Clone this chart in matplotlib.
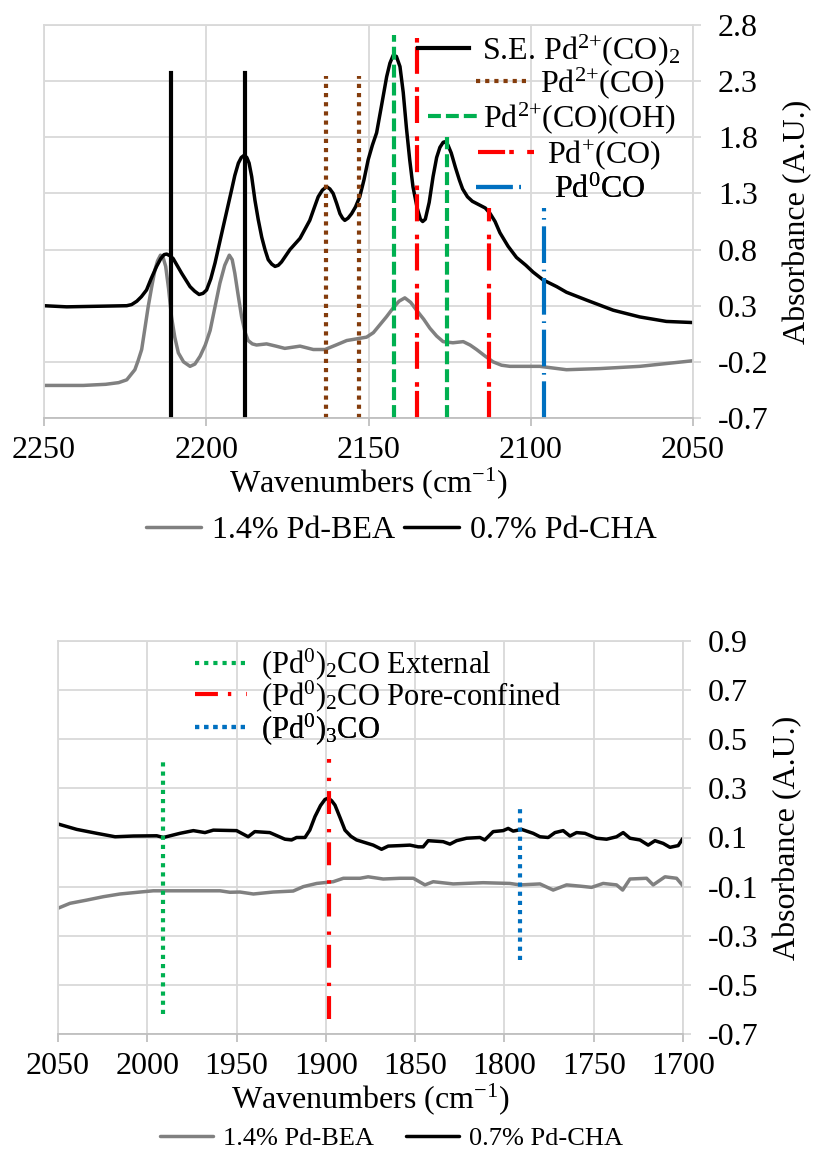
import numpy as np
import matplotlib
matplotlib.use('Agg')
import matplotlib.pyplot as plt
from matplotlib.lines import Line2D

plt.rcParams['font.family'] = ['Liberation Serif', 'DejaVu Serif']
plt.rcParams['mathtext.fontset'] = 'custom'
plt.rcParams['mathtext.rm'] = 'Liberation Serif'
plt.rcParams['mathtext.it'] = 'Liberation Serif:italic'
plt.rcParams['mathtext.default'] = 'regular'
plt.rcParams['axes.unicode_minus'] = False

# --- top panel: CO region 2250-2050 cm-1 ---
top_wn_cha = [2250, 2243, 2224.5, 2223, 2221.4, 2220, 2218.4, 2217, 2215.3, 2214,
              2213, 2212.2, 2211.2, 2210.2, 2209, 2207.6, 2206.3, 2205, 2203.6, 2202.2,
              2201, 2199.9, 2198.6, 2197.3, 2194.8, 2192.2, 2191.2, 2190.1, 2189.2, 2188.3,
              2187.5, 2186.8, 2186, 2185, 2184, 2182.9, 2181.9, 2180.9, 2179.8, 2178.8,
              2177.8, 2176.8, 2174.2, 2171.1, 2168.1, 2166.5, 2165.5, 2164.2, 2162.9, 2161.9,
              2160.9, 2159.8, 2158.8, 2158, 2157.3, 2156.3, 2155.2, 2154, 2152.7, 2151.4,
              2150.1, 2148.8, 2147.5, 2146, 2144.4, 2143.4, 2142.4, 2141.4, 2140.3, 2139.3,
              2138.3, 2137.3, 2136.3, 2135, 2134, 2133.3, 2132.5, 2131.3, 2130.1, 2129,
              2128, 2127, 2126.5, 2125.5, 2124.5, 2123.2, 2122, 2121, 2119.5, 2118,
              2116, 2114, 2112.5, 2111, 2109.5, 2107, 2104.4, 2101.5, 2099.3, 2096.2,
              2092, 2089, 2082.8, 2074.6, 2066.4, 2058.2, 2050]
top_abs_cha = [0.30, 0.29, 0.30, 0.31, 0.34, 0.38, 0.44, 0.54, 0.65, 0.72,
               0.755, 0.76, 0.745, 0.72, 0.66, 0.59, 0.53, 0.47, 0.43, 0.40,
               0.41, 0.44, 0.54, 0.68, 1.00, 1.33, 1.46, 1.57, 1.62, 1.64,
               1.62, 1.57, 1.45, 1.24, 1.07, 0.91, 0.80, 0.71, 0.67, 0.65,
               0.66, 0.69, 0.80, 0.90, 1.06, 1.19, 1.27, 1.33, 1.36, 1.34,
               1.30, 1.21, 1.12, 1.08, 1.06, 1.08, 1.12, 1.18, 1.27, 1.42,
               1.60, 1.73, 1.84, 2.08, 2.34, 2.46, 2.53, 2.52, 2.43, 2.20,
               1.88, 1.60, 1.36, 1.17, 1.07, 1.05, 1.07, 1.22, 1.45, 1.62,
               1.71, 1.755, 1.76, 1.73, 1.66, 1.53, 1.42, 1.34, 1.27, 1.23,
               1.20, 1.17, 1.12, 1.05, 0.95, 0.83, 0.73, 0.66, 0.60, 0.53,
               0.47, 0.42, 0.35, 0.26, 0.20, 0.16, 0.15]

top_wn_bea = [2250, 2237.9, 2231, 2227, 2224.5, 2222, 2221, 2219.9, 2219, 2217.9,
              2216.8, 2215.8, 2215, 2214.1, 2213.3, 2212.5, 2211.6, 2210.7, 2209.7, 2208.6,
              2207, 2205, 2203.5, 2201.9, 2200.3, 2198.8, 2197.3, 2195.8, 2194.3, 2192.9,
              2192, 2191.2, 2190.2, 2189.1, 2188, 2187.1, 2185.8, 2184.5, 2181.4, 2178.5,
              2175.8, 2171.1, 2167, 2163.4, 2160, 2156.7, 2150.6, 2148.5, 2146.5, 2144.5,
              2142.4, 2140.6, 2138.8, 2137, 2135.2, 2133, 2131.1, 2129, 2127, 2124,
              2120.8, 2118.7, 2116.7, 2114, 2111.6, 2109, 2106.4, 2097.2, 2089, 2078.7,
              2066.4, 2050]
top_abs_bea = [-0.41, -0.41, -0.40, -0.385, -0.36, -0.27, -0.19, -0.09, 0.08, 0.29,
               0.47, 0.62, 0.70, 0.75, 0.73, 0.65, 0.45, 0.20, 0.02, -0.12,
               -0.20, -0.24, -0.22, -0.15, -0.05, 0.08, 0.29, 0.50, 0.66, 0.75,
               0.71, 0.59, 0.40, 0.20, 0.06, -0.01, -0.04, -0.05, -0.04, -0.06,
               -0.08, -0.06, -0.09, -0.09, -0.05, -0.01, 0.02, 0.06, 0.13, 0.20,
               0.28, 0.34, 0.37, 0.33, 0.26, 0.18, 0.10, 0.03, -0.02, -0.03,
               -0.02, -0.05, -0.09, -0.15, -0.20, -0.23, -0.24, -0.24, -0.27, -0.26,
               -0.24, -0.19]

# reference band positions (wavenumber, top of marker line)
se_pos, se_top = [2211, 2188], [2.37, 2.37]
pd2co_pos, pd2co_top = [2163, 2153], [2.35, 2.35]
pd2oh_pos, pd2oh_top = [2142, 2125.7], [2.71, 1.80]
pd1co_pos, pd1co_top = [2135, 2113], [2.68, 1.17]
pd0co_pos, pd0co_top = [2096], [1.17]

top_xticks = [2250, 2200, 2150, 2100, 2050]
top_yticks = [-0.7, -0.2, 0.3, 0.8, 1.3, 1.8, 2.3, 2.8]

# --- bottom panel: bridged CO region 2050-1700 cm-1 ---
bot_wn_cha = [2050, 2039.5, 2028.3, 2018, 2007.8, 1994.7, 1991, 1981.7, 1974.2, 1967.7,
              1963, 1950, 1943.5, 1939.8, 1931.4, 1922.9, 1919.2, 1916.4, 1911.7, 1909,
              1906.1, 1903, 1900.5, 1898.6, 1896.8, 1894.9, 1892, 1889.3, 1886, 1882.8,
              1873.5, 1868.8, 1865.1, 1858.5, 1852.9, 1848.3,
              1845.5, 1842.7, 1834.3, 1830.5, 1826.8, 1821.2, 1813.7, 1811, 1806.3, 1800.7,
              1797.9, 1795.1, 1790.4, 1783.9, 1780.1, 1775.5, 1771.7, 1767.1, 1763.3, 1759.6,
              1754.9, 1748.4, 1742.8, 1737.2, 1733.5, 1729.7, 1724.1, 1719.5, 1715.7, 1711.1,
              1707.3, 1702.7, 1700]
bot_abs_cha = [0.155, 0.133, 0.117, 0.103, 0.106, 0.107, 0.100, 0.117, 0.128, 0.120,
               0.130, 0.128, 0.103, 0.124, 0.120, 0.093, 0.090, 0.100, 0.100, 0.130,
               0.185, 0.230, 0.255, 0.260, 0.250, 0.232, 0.180, 0.130, 0.105, 0.090,
               0.069, 0.052, 0.065, 0.067, 0.069, 0.062,
               0.062, 0.087, 0.083, 0.073, 0.087, 0.097, 0.100, 0.090, 0.124, 0.128,
               0.137, 0.126, 0.133, 0.117, 0.103, 0.100, 0.120, 0.128, 0.106, 0.120,
               0.117, 0.097, 0.093, 0.103, 0.120, 0.097, 0.090, 0.069, 0.087, 0.076,
               0.060, 0.067, 0.097]

bot_wn_bea = [2050, 2043.3, 2034, 2024.6, 2015.3, 2004, 1996.6, 1981.7, 1970.5, 1959.3,
              1953.7, 1948.1, 1940.6, 1929.5, 1918.3, 1912.6, 1905.1, 1895.9, 1890.2, 1880.9,
              1876.3, 1867.9, 1858.5, 1851, 1844.5, 1839.9, 1828.7, 1811.9, 1797, 1791.3,
              1780.1, 1772.7, 1765.2, 1757.7, 1751.2, 1744.7, 1737.2, 1733.8, 1729.7, 1720.4,
              1716.7, 1710.1, 1703.6, 1700]
bot_abs_bea = [-0.188, -0.168, -0.155, -0.141, -0.130, -0.122, -0.117, -0.117, -0.117, -0.117,
               -0.123, -0.122, -0.130, -0.122, -0.118, -0.100, -0.087, -0.080, -0.066, -0.066,
               -0.060, -0.069, -0.066, -0.066, -0.093, -0.080, -0.089, -0.084, -0.087, -0.093,
               -0.089, -0.114, -0.093, -0.098, -0.103, -0.087, -0.093, -0.114, -0.069, -0.066,
               -0.093, -0.060, -0.066, -0.097]

ext_pos, ext_span = [1991], [-0.62, 0.42]
pore_pos, pore_span = [1898], [-0.64, 0.42]
tri_pos, tri_span = [1791], [-0.40, 0.22]

bot_xticks = [2050, 2000, 1950, 1900, 1850, 1800, 1750, 1700]
bot_yticks = [-0.7, -0.5, -0.3, -0.1, 0.1, 0.3, 0.5, 0.7, 0.9]

# --- styles ---
GREY = '#808080'
GRID = '#d9d9d9'
FS = 23
VLW = 3.0
SLW = 2.5
sty_se = dict(color='black', lw=VLW, ls='-')
sty_pd2co = dict(color='#843c0c', lw=VLW, ls=(0, (1, 1.2)))
sty_pd2oh = dict(color='#00b050', lw=VLW, ls=(0, (3.1, 1.2)))
sty_pd1co = dict(color='#ff0000', lw=VLW, ls=(0, (6.5, 1.0, 1.1, 3.2)))
sty_pd0co = dict(color='#0070c0', lw=VLW, ls=(0, (8.8, 1.6, 0.4, 1.6)))
sty_ext = dict(color='#00b050', lw=VLW, ls=(0, (1, 1.2)))
sty_pore = dict(color='#ff0000', lw=VLW, ls=(0, (5.5, 2.4, 0.8, 3.6)))
sty_tri = dict(color='#0070c0', lw=VLW, ls=(0, (1, 1.2)))


def style_axes(ax, xlim, ylim, xticks, yticks):
    ax.set_xlim(*xlim)
    ax.set_ylim(*ylim)
    ax.set_xticks(xticks)
    ax.set_yticks(yticks)
    ax.set_yticklabels([f'{v:.1f}' for v in yticks])
    ax.yaxis.tick_right()
    ax.yaxis.set_label_position('right')
    ax.grid(True, color=GRID, lw=1.3)
    ax.set_axisbelow(True)
    for s in ax.spines.values():
        s.set_color(GRID)
        s.set_linewidth(1.3)
    ax.spines['bottom'].set_color('#bfbfbf')
    ax.tick_params(axis='x', direction='out', length=6, width=1.3, color='#bfbfbf',
                   labelsize=FS, pad=7)
    ax.tick_params(axis='y', direction='out', length=6, width=1.3, color=GRID,
                   labelsize=FS, pad=12)
    ax.set_xlabel('Wavenumbers (cm$^{\u2212 1}$)', fontsize=FS, labelpad=0)
    ax.set_ylabel('Absorbance (A.U.)', fontsize=FS, labelpad=10)


def marker_lines(ax, pos, lo, hi, sty):
    for x, l, h in zip(pos, lo, hi):
        ax.plot([x, x], [l, h], **sty)


def tag(ax, x, y, sty, label, pad=0.4, hl=1.6, fs=FS):
    h = Line2D([], [], **sty)
    leg = ax.legend([h], [label], loc='center left', bbox_to_anchor=(x, y),
                    frameon=False, borderpad=0, borderaxespad=0, handlelength=hl,
                    handletextpad=pad, fontsize=fs)
    ax.add_artist(leg)


fig = plt.figure(figsize=(8.16, 11.54), dpi=100)
ax1 = fig.add_axes([44 / 816, 1 - 418 / 1154, 649 / 816, 393 / 1154])
ax2 = fig.add_axes([58 / 816, 1 - 1034 / 1154, 625 / 816, 393 / 1154])

spec = dict(lw=SLW, solid_joinstyle='round', solid_capstyle='round')

# top panel
style_axes(ax1, (2250, 2050), (-0.7, 2.8), top_xticks, top_yticks)
b1, = ax1.plot(top_wn_bea, top_abs_bea, color=GREY, **spec)
c1, = ax1.plot(top_wn_cha, top_abs_cha, color='black', **spec)
marker_lines(ax1, se_pos, [-0.7] * 2, se_top, sty_se)
marker_lines(ax1, pd2co_pos, [-0.7] * 2, pd2co_top, sty_pd2co)
marker_lines(ax1, pd2oh_pos, [-0.7] * 2, pd2oh_top, sty_pd2oh)
marker_lines(ax1, pd1co_pos, [-0.7] * 2, pd1co_top, sty_pd1co)
marker_lines(ax1, pd0co_pos, [-0.7], pd0co_top, sty_pd0co)

tag(ax1, 0.576, 0.935, sty_se, 'S.E. Pd$^{2{+}}$(CO)$_2$')
tag(ax1, 0.666, 0.852, sty_pd2co, 'Pd$^{2{+}}$(CO)')
tag(ax1, 0.592, 0.763, sty_pd2oh, 'Pd$^{2{+}}$(CO)(OH)', pad=0.1)
tag(ax1, 0.669, 0.669, sty_pd1co, 'Pd$^{+}$(CO)', hl=1.75)
tag(ax1, 0.666, 0.580, sty_pd0co, 'Pd$^{0}$CO', pad=0.85)

fig.legend([b1, c1], ['1.4% Pd-BEA', '0.7% Pd-CHA'], loc='center',
           bbox_to_anchor=(0.492, 1 - 530 / 1154), ncol=2, frameon=False,
           fontsize=FS, handlelength=1.7, handletextpad=0.35, columnspacing=0.3,
           borderpad=0)

# bottom panel
style_axes(ax2, (2050, 1700), (-0.7, 0.9), bot_xticks, bot_yticks)
b2, = ax2.plot(bot_wn_bea, bot_abs_bea, color=GREY, **spec)
c2, = ax2.plot(bot_wn_cha, bot_abs_cha, color='black', **spec)
marker_lines(ax2, ext_pos, [ext_span[0]], [ext_span[1]], sty_ext)
marker_lines(ax2, pore_pos, [pore_span[0]], [pore_span[1]], sty_pore)
marker_lines(ax2, tri_pos, [tri_span[0]], [tri_span[1]], sty_tri)

tag(ax2, 0.219, 0.940, sty_ext, '(Pd$^{0}$)$_2$CO External', pad=0.45, hl=1.7, fs=22)
tag(ax2, 0.219, 0.860, sty_pore, '(Pd$^{0}$)$_2$CO Pore-confined', pad=0.45, hl=1.7, fs=22)
tag(ax2, 0.219, 0.777, sty_tri, '(Pd$^{0}$)$_3$CO', pad=0.45, hl=1.7, fs=22)

fig.legend([b2, c2], ['1.4% Pd-BEA', '0.7% Pd-CHA'], loc='center',
           bbox_to_anchor=(0.480, 1 - 1138 / 1154), ncol=2, frameon=False,
           fontsize=19, handlelength=2.0, handletextpad=0.4, columnspacing=1.2,
           borderpad=0)

fig.savefig('out.png', dpi=100)
